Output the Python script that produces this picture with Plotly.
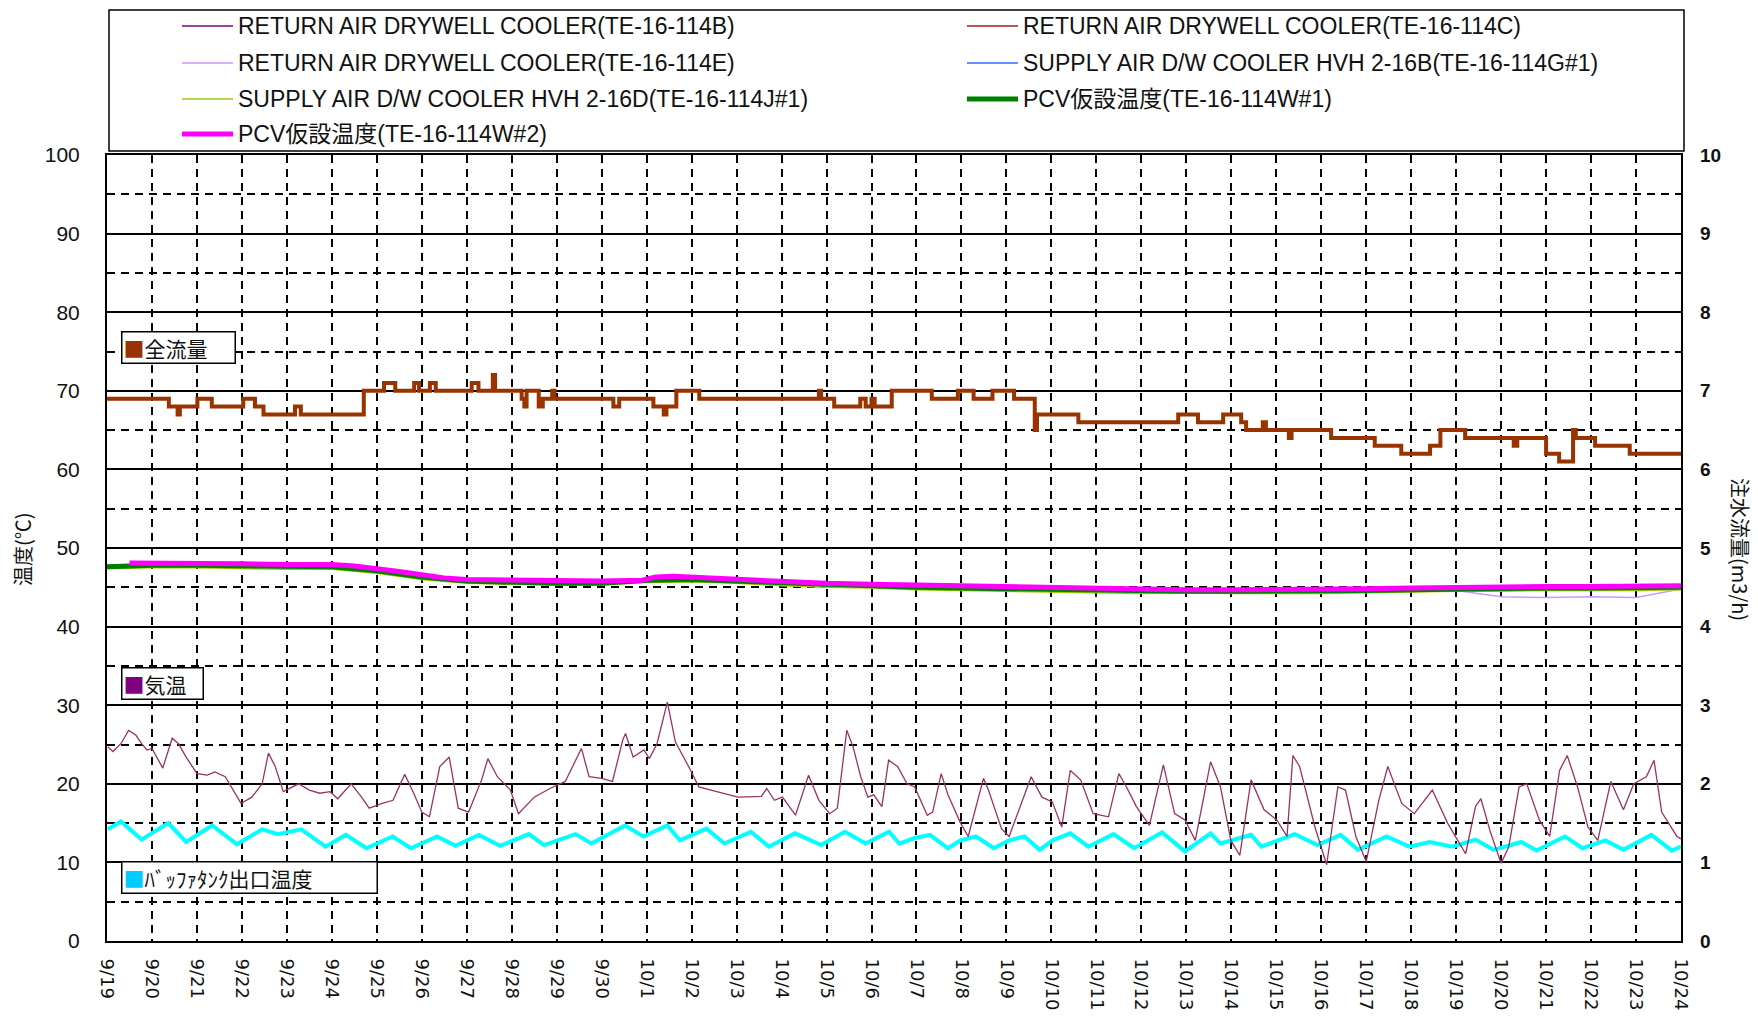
import pandas as pd
import plotly.graph_objects as go

BASE = pd.Timestamp("2011-09-19")
N_DAYS = 35

# ---- 全流量 (m3/h), step series: day offset from 9/19 00:00, value ----
flow_days = [0, 1.375, 1.57, 1.62, 2.01, 2.33, 3.03, 3.29, 3.48, 4.18, 4.31, 5.71, 6.16, 6.41,
             6.83, 6.94, 7.18, 7.31, 8.11, 8.26, 8.58, 8.63, 9.22, 9.28, 9.33, 9.6, 9.69, 9.9,
             9.95, 11.26, 11.39, 12.15, 12.38, 12.44, 12.66, 13.17, 15.83, 15.88, 16.17, 16.75,
             16.87, 17.0, 17.07, 17.45, 18.34, 18.92, 19.27, 19.69, 20.17, 20.63, 20.68, 21.6,
             23.82, 24.26, 24.82, 25.22, 25.33, 25.7, 25.77, 26.28, 26.34, 27.22, 28.19, 28.78,
             29.42, 29.65, 30.2, 31.28, 31.36, 32.0, 32.29, 32.6, 32.66, 33.09, 33.86, 35.0]
flow_vals = [6.9, 6.8, 6.7, 6.8, 6.9, 6.8, 6.9, 6.8, 6.7, 6.8, 6.7, 7.0, 7.1, 7.0,
             7.1, 7.0, 7.1, 7.0, 7.1, 7.0, 7.2, 7.0, 6.9, 6.8, 7.0, 6.8, 6.9, 7.0,
             6.9, 6.8, 6.9, 6.8, 6.7, 6.8, 7.0, 6.9, 7.0, 6.9, 6.8, 6.9,
             6.8, 6.9, 6.8, 7.0, 6.9, 7.0, 6.9, 7.0, 6.9, 6.5, 6.7, 6.6,
             6.7, 6.6, 6.7, 6.6, 6.5, 6.6, 6.5, 6.4, 6.5, 6.4, 6.3, 6.2,
             6.3, 6.5, 6.4, 6.3, 6.4, 6.2, 6.1, 6.5, 6.4, 6.3, 6.2, 6.2]

# ---- 気温 (°C) ----
air_days = [0.02, 0.13, 0.31, 0.48, 0.64, 0.77, 0.89, 1.0, 1.24, 1.45, 1.59, 1.76, 2.0, 2.23,
            2.40, 2.63, 2.98, 3.22, 3.45, 3.59, 3.74, 3.92, 4.26, 4.50, 4.73, 4.96, 5.13, 5.43,
            5.66, 5.83, 6.12, 6.36, 6.62, 6.82, 7.0, 7.17, 7.40, 7.61, 7.81, 8.04, 8.33, 8.47,
            8.68, 8.97, 9.15, 9.50, 9.85, 10.19, 10.55, 10.72, 11.0, 11.24, 11.47, 11.53, 11.7,
            11.94, 12.06, 12.23, 12.46, 12.64, 12.98, 13.16, 13.56, 14.03, 14.55, 14.67, 14.84,
            15.02, 15.31, 15.60, 15.83, 16.07, 16.24, 16.45, 16.59, 16.76, 16.92, 17.05, 17.23,
            17.38, 17.58, 17.79, 17.96, 18.24, 18.36, 18.55, 18.70, 18.98, 19.15, 19.32, 19.49,
            19.60, 19.89, 20.06, 20.28, 20.55, 20.79, 21.02, 21.23, 21.42, 21.65, 21.93, 22.27,
            22.50, 22.67, 22.89, 23.18, 23.49, 23.74, 23.97, 24.20, 24.54, 24.76, 24.99, 25.19,
            25.44, 25.73, 26.01, 26.24, 26.37, 26.52, 26.86, 27.12, 27.37, 27.54, 27.77, 28.00,
            28.28, 28.48, 28.79, 29.07, 29.47, 29.81, 30.21, 30.43, 30.55, 30.77, 31.0, 31.17,
            31.40, 31.57, 31.85, 32.08, 32.30, 32.47, 32.70, 32.93, 33.15, 33.44, 33.72, 33.95,
            34.23, 34.40, 34.57, 34.91, 35.0]
air_vals = [24.7, 24.1, 25.1, 26.8, 26.2, 25.1, 24.3, 24.5, 22.0, 25.8, 25.1, 23.4, 21.3, 21.1,
            21.5, 20.9, 17.5, 18.3, 20.0, 23.9, 22.2, 19.0, 20.0, 19.2, 18.8, 19.0, 18.1, 20.0,
            18.3, 16.9, 17.5, 17.9, 21.2, 18.8, 16.4, 15.8, 22.2, 23.4, 16.9, 16.4, 20.5, 23.2,
            20.9, 19.2, 16.2, 18.3, 19.4, 20.3, 24.5, 20.9, 20.7, 20.3, 25.6, 26.4, 23.4,
            24.3, 23.2, 25.1, 30.4, 25.3, 21.7, 19.6, 19.0, 18.3, 18.4, 19.4, 17.9,
            18.3, 16.0, 21.1, 17.9, 16.2, 16.9, 26.8, 24.7, 20.9, 18.3, 18.6, 17.1,
            23.0, 22.2, 20.0, 19.6, 16.0, 16.4, 21.3, 18.6, 15.0, 13.3, 17.1, 20.7,
            19.2, 14.3, 13.3, 16.7, 20.9, 18.3, 17.7, 14.5, 21.7, 20.5, 16.2, 15.8,
            21.3, 19.6, 17.1, 14.7, 22.4, 16.2, 15.4, 12.8, 22.8, 19.6, 12.8, 10.9,
            20.5, 16.7, 15.4, 13.3, 23.6, 22.2, 14.5, 9.7, 19.6, 19.2, 13.3, 10.1,
            17.9, 22.2, 17.5, 16.2, 19.2, 15.0, 11.1, 17.1, 18.1, 13.7, 9.9, 12.0,
            19.6, 20.0, 15.4, 13.3, 21.7, 23.6, 19.6, 14.5, 12.8, 20.3, 16.7, 20.0,
            20.9, 23.0, 16.4, 13.3, 13.0]

# ---- ﾊﾞｯﾌｧﾀﾝｸ出口温度 (°C) ----
buf_days = [0.02, 0.31, 0.77, 1.36, 1.76, 2.34, 2.89, 3.45, 3.80, 4.32, 4.86, 5.31, 5.77, 6.35,
            6.76, 7.34, 7.75, 8.27, 8.74, 9.38, 9.72, 10.42, 10.77, 11.52, 11.93, 12.46, 12.74,
            13.33, 13.73, 14.32, 14.72, 15.30, 15.88, 16.41, 16.87, 17.39, 17.62, 17.96, 18.30,
            18.70, 18.98, 19.32, 19.72, 20.06, 20.40, 20.74, 21.02, 21.42, 21.82, 22.38, 22.84,
            23.46, 23.97, 24.54, 24.76, 25.44, 25.67, 26.41, 26.92, 27.43, 27.82, 28.45, 28.96,
            29.41, 29.92, 30.43, 30.83, 31.45, 31.79, 32.42, 32.81, 33.32, 33.72, 34.34, 34.80,
            35.0]
buf_vals = [14.2, 15.2, 12.9, 15.0, 12.6, 14.7, 12.3, 14.2, 13.6, 14.2, 12.0, 13.5, 11.8, 13.3,
            11.8, 13.3, 12.1, 13.5, 12.1, 13.6, 12.2, 13.6, 12.4, 14.7, 13.3, 14.7, 12.8,
            14.3, 12.4, 13.9, 12.0, 13.7, 12.2, 13.9, 12.4, 13.9, 12.4, 13.1, 13.5,
            11.8, 12.8, 13.3, 11.8, 12.8, 13.3, 11.6, 12.8, 13.7, 12.0, 13.6, 11.8,
            13.8, 11.4, 13.7, 12.4, 13.5, 12.0, 13.6, 12.2, 13.5, 11.6, 13.3, 12.0,
            12.6, 12.0, 12.9, 11.6, 12.6, 11.5, 13.3, 11.8, 12.8, 11.6, 13.5, 11.5,
            12.0]

# ---- PCV temperatures (°C), daily readings from 9/19 to 10/24 ----
temp_days = list(range(0, N_DAYS + 1))
te_114b = [47.6, 47.8, 47.8, 47.7, 47.6, 47.6, 47.1, 46.3, 45.8, 45.6, 45.5, 45.5, 45.9, 46.0,
           45.8, 45.5, 45.3, 45.1, 45.0, 44.9, 44.8, 44.7, 44.6, 44.5, 44.5, 44.5, 44.5, 44.5,
           44.6, 44.7, 44.8, 44.9, 44.9, 44.9, 44.9, 45.0]
te_114c = [47.7, 47.9, 47.9, 47.8, 47.7, 47.7, 47.2, 46.4, 45.9, 45.7, 45.6, 45.6, 46.0, 46.1,
           45.9, 45.6, 45.4, 45.2, 45.1, 45.0, 44.8, 44.7, 44.6, 44.5, 44.5, 44.5, 44.6, 44.6,
           44.7, 44.8, 44.9, 45.0, 45.1, 45.0, 45.1, 45.2]
te_114e = [47.5, 47.7, 47.7, 47.6, 47.5, 47.5, 47.0, 46.2, 45.7, 45.5, 45.4, 45.4, 45.8, 45.9,
           45.7, 45.4, 45.2, 45.0, 44.9, 44.8, 44.7, 44.6, 44.5, 44.4, 44.4, 44.4, 44.4, 44.5,
           44.5, 44.6, 44.6, 43.8, 43.7, 43.8, 43.7, 44.8]
te_114g = [47.5, 47.7, 47.7, 47.6, 47.5, 47.5, 47.0, 46.2, 45.7, 45.5, 45.4, 45.4, 45.8, 45.9,
           45.7, 45.4, 45.2, 45.0, 44.9, 44.8, 44.7, 44.6, 44.5, 44.4, 44.4, 44.4, 44.4, 44.3,
           44.5, 44.5, 44.6, 44.7, 44.8, 44.8, 44.8, 44.9]
te_114j = [47.4, 47.5, 47.5, 47.4, 47.3, 47.3, 46.8, 46.0, 45.5, 45.4, 45.3, 45.3, 45.6, 45.7,
           45.5, 45.2, 45.0, 44.9, 44.7, 44.6, 44.5, 44.4, 44.3, 44.2, 44.3, 44.2, 44.2, 44.2,
           44.3, 44.4, 44.5, 44.5, 44.6, 44.6, 44.6, 44.7]
te_w1 = [47.6, 47.8, 47.8, 47.7, 47.6, 47.6, 47.1, 46.3, 45.8, 45.6, 45.5, 45.5, 45.9, 46.0,
         45.8, 45.5, 45.3, 45.1, 45.0, 44.9, 44.8, 44.7, 44.6, 44.5, 44.5, 44.5, 44.5, 44.5,
         44.6, 44.7, 44.8, 44.9, 44.9, 44.9, 44.9, 45.0]
w2_days = [0.5, 1, 2, 3, 4, 5, 5.5, 6, 6.5, 7, 7.5, 8, 9, 10, 11, 11.9, 12.2, 12.6, 13, 14, 15, 16,
           17, 18, 19, 20, 21, 22, 23, 24, 25, 26, 27, 28, 29, 30, 31, 32, 33, 34, 35]
te_w2 = [48.1, 48.1, 48.1, 48.0, 47.9, 47.9, 47.7, 47.4, 47.0, 46.6, 46.2, 46.0, 45.9, 45.8, 45.8,
         45.9, 46.3, 46.4, 46.3, 46.1, 45.7, 45.5, 45.4, 45.3, 45.1, 45.0, 44.9, 44.8, 44.7, 44.7,
         44.7, 44.7, 44.7, 44.8, 44.9, 45.0, 45.1, 45.1, 45.1, 45.1, 45.2]

temp_series = [
    ("RETURN AIR DRYWELL COOLER(TE-16-114B)", te_114b, temp_days, "#800080", 1.5),
    ("RETURN AIR DRYWELL COOLER(TE-16-114C)", te_114c, temp_days, "#A0201E", 1.5),
    ("RETURN AIR DRYWELL COOLER(TE-16-114E)", te_114e, temp_days, "#CC99FF", 1.5),
    ("SUPPLY AIR D/W COOLER HVH 2-16B(TE-16-114G#1)", te_114g, temp_days, "#3366FF", 1.5),
    ("SUPPLY AIR D/W COOLER HVH 2-16D(TE-16-114J#1)", te_114j, temp_days, "#99CC00", 1.5),
    ("PCV仮設温度(TE-16-114W#1)", te_w1, temp_days, "#008000", 5),
    ("PCV仮設温度(TE-16-114W#2)", te_w2, w2_days, "#FF00FF", 5),
]


def to_time(days):
    return [BASE + pd.Timedelta(days=d) for d in days]


fig = go.Figure()
for name, vals, days, color, width in temp_series:
    fig.add_trace(go.Scatter(x=to_time(days), y=vals, name=name, mode="lines",
                             line=dict(color=color, width=width)))

fig.add_trace(go.Scatter(x=to_time(buf_days), y=buf_vals, name="ﾊﾞｯﾌｧﾀﾝｸ出口温度",
                         mode="lines", line=dict(color="#00FFFF", width=4)))
fig.add_trace(go.Scatter(x=to_time(air_days), y=air_vals, name="気温", mode="lines",
                         line=dict(color="#993366", width=1.3)))
fig.add_trace(go.Scatter(x=to_time(flow_days), y=flow_vals, name="全流量", mode="lines",
                         yaxis="y2", line=dict(color="#993300", width=4, shape="hv")))

# plot area in pixels
W, H = 1758, 1022
L, R, T, B = 107, 1681, 155, 941


def px(x):
    return (x - L) / (R - L)


def py(y):
    return (B - y) / (B - T)


FONT_TXT = "Liberation Sans, Arial, Noto Sans CJK JP"
FONT_JP = "Noto Sans CJK JP, Liberation Sans"

shapes = []
annotations = []

# legend frame
shapes.append(dict(type="rect", xref="paper", yref="paper", x0=px(109), x1=px(1684),
                   y0=py(151), y1=py(10), line=dict(color="black", width=1.5),
                   fillcolor="white", layer="above"))
rows = [26, 63, 99, 134]
legend_slots = [(0, 0), (1, 0), (0, 1), (1, 1), (0, 2), (1, 2), (0, 3)]
for (name, vals, days, color, width), (col, row) in zip(temp_series, legend_slots):
    x0 = 182 if col == 0 else 967
    yy = rows[row]
    shapes.append(dict(type="line", xref="paper", yref="paper", x0=px(x0), x1=px(x0 + 51),
                       y0=py(yy), y1=py(yy), line=dict(color=color, width=width),
                       layer="above"))
    annotations.append(dict(xref="paper", yref="paper", x=px(x0 + 54), y=py(yy),
                            xanchor="left", yanchor="middle", showarrow=False, text=name,
                            font=dict(family=FONT_TXT, size=23, color="#111")))

# series labels inside the plot
for label, color, left, top, w in [("全流量", "#993300", 121, 331, 118),
                                   ("気温", "#800080", 121, 667, 86),
                                   ("ﾊﾞｯﾌｧﾀﾝｸ出口温度", "#00CCFF", 121, 861, 260)]:
    annotations.append(dict(xref="paper", yref="paper", x=px(left), y=py(top),
                            xanchor="left", yanchor="top", showarrow=False, align="left",
                            text=f"<span style='color:{color}'>■</span>{label}",
                            width=w - 8, height=28, bgcolor="white", bordercolor="black",
                            borderwidth=1.5, borderpad=1,
                            font=dict(family=FONT_JP, size=21, color="#111")))

# axis titles
annotations.append(dict(xref="paper", yref="paper", x=px(22), y=py(549), showarrow=False,
                        xanchor="center", yanchor="middle",
                        text="温度(℃)", textangle=-90,
                        font=dict(family=FONT_JP, size=20, color="#111")))
annotations.append(dict(xref="paper", yref="paper", x=px(1741), y=py(549), showarrow=False,
                        xanchor="center", yanchor="middle",
                        text="注水流量(m3/h)", textangle=90,
                        font=dict(family=FONT_JP, size=20, color="#111")))

fig.update_layout(
    width=W, height=H, autosize=False,
    margin=dict(l=L, r=W - R, t=T, b=H - B, pad=0),
    paper_bgcolor="white", plot_bgcolor="white",
    showlegend=False,
    shapes=shapes, annotations=annotations,
    xaxis=dict(type="date", range=[BASE, BASE + pd.Timedelta(days=N_DAYS)],
               dtick=86400000, tick0=BASE, tickformat="%-m/%-d", tickangle=90,
               showgrid=True, gridcolor="black", gridwidth=1.5, griddash="8px,6px",
               showline=True, mirror=True, linecolor="black", linewidth=2, ticks="",
               ticklabelstandoff=12,
               tickfont=dict(family="DejaVu Sans", size=18, color="#111"),
               zeroline=False),
    yaxis=dict(range=[0, 100], dtick=10, showgrid=True, gridcolor="black", gridwidth=1.5,
               minor=dict(dtick=5, showgrid=True, gridcolor="black", gridwidth=1.5,
                          griddash="8px,6px"),
               showline=True, mirror=True, linecolor="black", linewidth=2, ticks="",
               ticklabelstandoff=21,
               tickfont=dict(family="Liberation Sans, Arial", size=21, color="#111"),
               zeroline=False),
    yaxis2=dict(range=[0, 10], dtick=1, overlaying="y", side="right", showgrid=False,
                ticks="", showline=False, zeroline=False, ticklabelstandoff=18,
                tickfont=dict(family="Liberation Sans, Arial", size=19, color="#111",
                              weight="bold")),
)

fig.write_html("out.html")
